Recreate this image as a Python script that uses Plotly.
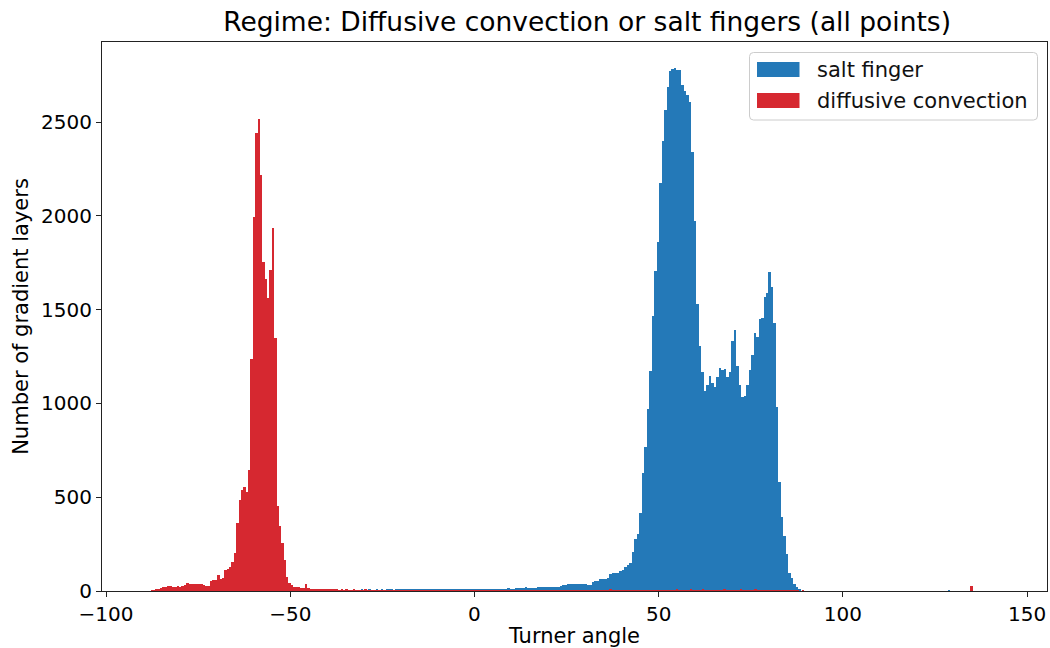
import numpy as np
import plotly.graph_objects as go

# ---------------- data ----------------
red_label = "diffusive convection"
red_bin_start = -89.2
red_bin_width = 0.645
red_counts = [
    0, 0, 2, 4, 6, 10, 14, 20, 24, 28,
    25, 22, 23, 25, 24, 26, 30, 44, 36, 37,
    38, 36, 38, 40, 30, 27, 25, 55, 58, 60,
    84, 66, 68, 112, 117, 130, 156, 203, 362, 485,
    538, 556, 529, 645, 1235, 1992, 2440, 2514, 2217, 1752,
    1663, 1560, 1711, 1938, 1350, 453, 346, 254, 165, 76,
    44, 32, 24, 22, 20, 16, 18, 40, 14, 12,
    12, 10, 9, 11, 8, 9, 7, 8, 6, 7,
    6, 5, 7, 5, 6, 4, 5, 6, 4, 5,
    5, 4, 6, 3, 5, 4, 4, 5, 3, 4,
    4, 3, 5, 3, 4, 3, 4, 2, 4, 3,
    3, 4, 2, 3, 4, 3, 2, 3, 4, 2,
    3, 2, 4, 3, 2, 3, 3, 2, 4, 3,
    2, 3, 3, 2, 4, 2, 3, 3, 2, 3,
    3, 2, 3, 4, 2, 3, 2, 3, 3, 2,
    3, 2, 4, 3, 2, 3, 3, 2, 3, 4,
    2, 3, 3, 2, 3, 2, 4, 3, 2, 3,
    3, 2, 3, 4, 3, 2, 3, 3, 4, 2,
    3, 4, 3, 3, 2, 4, 3, 3, 4, 3,
    4, 3, 3, 5, 3, 7, 3, 4, 3, 4,
    3, 4, 5, 3, 4, 3, 4, 5, 3, 4,
    4, 3, 5, 4, 3, 4, 5, 3, 4, 4,
    5, 3, 4, 6, 4, 3, 5, 4, 3, 7,
    4, 5, 3, 4, 6, 4, 3, 5, 4, 3,
    4, 5, 3, 8, 4, 3, 5, 4, 3, 4,
    6, 4, 3, 5, 4, 3, 8, 5, 3, 4,
    3, 4, 3, 2, 4, 3, 2, 3, 2, 2,
    2, 1, 2, 1, 1, 0, 1, 0, 0, 0,
    0, 0, 0, 0, 0, 0, 0, 0, 0, 0,
    0, 0, 0, 0, 0, 0, 0, 0, 0, 0,
    0, 0, 0, 0, 0, 0, 0, 0, 0, 0,
    0, 0, 0, 0, 0, 0, 0, 0, 0, 0,
    0, 0, 0, 0, 0, 0, 0, 0, 0, 0,
    0, 0, 0, 0, 0, 0, 0, 0, 0, 0,
    0, 0, 0, 0, 0, 0, 0, 28,
]

blue_label = "salt finger"
blue_bin_start = -36.3
blue_bin_width = 0.675
blue_counts = [
    2, 4, 3, 5, 4, 3, 5, 4, 6, 5,
    4, 6, 5, 4, 6, 5, 7, 5, 6, 8,
    6, 5, 7, 6, 8, 7, 6, 9, 7, 8,
    6, 9, 8, 7, 9, 8, 7, 10, 8, 9,
    8, 10, 9, 11, 9, 10, 8, 11, 10, 9,
    11, 10, 9, 12, 10, 11, 12, 13, 12, 11,
    12, 11, 10, 12, 13, 11, 12, 14, 13, 12,
    14, 16, 18, 17, 19, 18, 17, 15, 16, 20,
    19, 21, 20, 22, 21, 23, 24, 22, 25, 32,
    33, 36, 35, 37, 36, 38, 37, 36, 35, 33,
    32, 48, 52, 55, 62, 64, 63, 67, 92, 94,
    96, 98, 105, 110, 130, 140, 150, 206, 279, 303,
    417, 629, 767, 970, 1173, 1467, 1707, 1863, 2177, 2398,
    2563, 2687, 2775, 2783, 2790, 2779, 2780, 2698, 2668, 2646,
    2609, 2342, 1974, 1532, 1305, 1169, 1068, 1100, 1146, 1107,
    1089, 1142, 1187, 1178, 1181, 1142, 1169, 1333, 1391, 1200,
    1100, 1032, 1040, 1100, 1180, 1260, 1377, 1356, 1448, 1456,
    1569, 1590, 1702, 1619, 1427, 982, 583, 393, 293, 197,
    94, 70, 40, 22, 8, 0, 0, 0, 0, 0,
    0, 0, 0, 0, 0, 0, 0, 0, 0, 0,
    0, 0, 0, 0, 0, 0, 0, 0, 0, 0,
    0, 0, 0, 0, 0, 0, 0, 0, 0, 0,
    0, 0, 0, 0, 0, 0, 0, 0, 0, 0,
    0, 0, 0, 0, 0, 0, 0, 0, 0, 0,
    0, 0, 0, 0, 5,
]

title_text = "Regime: Diffusive convection or salt fingers (all points)"
x_title = "Turner angle"
y_title = "Number of gradient layers"
x_ticks = [-100, -50, 0, 50, 100, 150]
y_ticks = [0, 500, 1000, 1500, 2000, 2500]

# ---------------- styling ----------------
BLUE = "#2479b8"
RED = "#d62830"
FONT = "DejaVu Sans"
W, H = 1050, 648
L, R, T, B = 102, 1047, 42, 591   # plot area in pixels

red_x = red_bin_start + red_bin_width * (np.arange(len(red_counts)) + 0.5)
blue_x = blue_bin_start + blue_bin_width * (np.arange(len(blue_counts)) + 0.5)

fig = go.Figure()
fig.add_trace(go.Bar(x=blue_x, y=blue_counts, width=blue_bin_width,
                     marker=dict(color=BLUE, line=dict(width=0)), name=blue_label))
fig.add_trace(go.Bar(x=red_x, y=red_counts, width=red_bin_width,
                     marker=dict(color=RED, line=dict(width=0)), name=red_label))

axis_common = dict(showline=True, linecolor="#222", linewidth=1.2, mirror=True,
                   ticks="outside", ticklen=5, tickwidth=1.1, tickcolor="#222",
                   showgrid=False, zeroline=False, automargin=False,
                   ticklabeloverflow="allow",
                   tickfont=dict(family=FONT, size=20, color="black"))

fig.update_layout(
    width=W, height=H,
    margin=dict(l=L, r=W - R, t=T, b=H - B),
    paper_bgcolor="white", plot_bgcolor="white",
    barmode="overlay", bargap=0, showlegend=False,
    font=dict(family=FONT, color="black"),
    title=dict(text=title_text, x=(L + R) / 2 / W + 0.012, xanchor="center",
               y=1 - 22 / H, yanchor="middle",
               font=dict(family=FONT, size=26.5, color="black")),
    xaxis=dict(range=[-101.1, 155.4], tickvals=x_ticks,
               title=dict(text=x_title, standoff=4,
                          font=dict(family=FONT, size=21, color="black")),
               **axis_common),
    yaxis=dict(range=[0, 2927], tickvals=y_ticks,
               title=dict(text=y_title, standoff=6,
                          font=dict(family=FONT, size=21, color="black")),
               **axis_common),
)

# ---------------- manual legend (matplotlib style) ----------------
def px2x(px):
    return (px - L) / (R - L)

def py2y(py):
    return (B - py) / (B - T)

bx0, bx1, by0, by1 = 749.5, 1037.5, 52.5, 120.0
rad = 4.0
rx, ry = rad / (R - L), rad / (B - T)
x0, x1, y0, y1 = px2x(bx0), px2x(bx1), py2y(by1), py2y(by0)
path = (f"M {x0+rx},{y0} L {x1-rx},{y0} Q {x1},{y0} {x1},{y0+ry} "
        f"L {x1},{y1-ry} Q {x1},{y1} {x1-rx},{y1} L {x0+rx},{y1} "
        f"Q {x0},{y1} {x0},{y1-ry} L {x0},{y0+ry} Q {x0},{y0} {x0+rx},{y0} Z")
fig.add_shape(type="path", path=path, xref="paper", yref="paper",
              fillcolor="rgba(255,255,255,0.8)", line=dict(color="#cccccc", width=1),
              layer="above")

entries = [(blue_label, BLUE, 62.0, 77.0), (red_label, RED, 93.0, 108.0)]
for label, color, p0, p1 in entries:
    fig.add_shape(type="rect", xref="paper", yref="paper",
                  x0=px2x(757), x1=px2x(799.5), y0=py2y(p1), y1=py2y(p0),
                  fillcolor=color, line=dict(width=0), layer="above")
    fig.add_annotation(text=label, xref="paper", yref="paper",
                       x=px2x(815), y=py2y((p0 + p1) / 2), xanchor="left",
                       yanchor="middle", showarrow=False,
                       font=dict(family=FONT, size=21, color="#111"))

fig.write_html("out.html", config={"displayModeBar": False},
               post_script="document.body.style.margin='0';document.body.style.padding='0';")
